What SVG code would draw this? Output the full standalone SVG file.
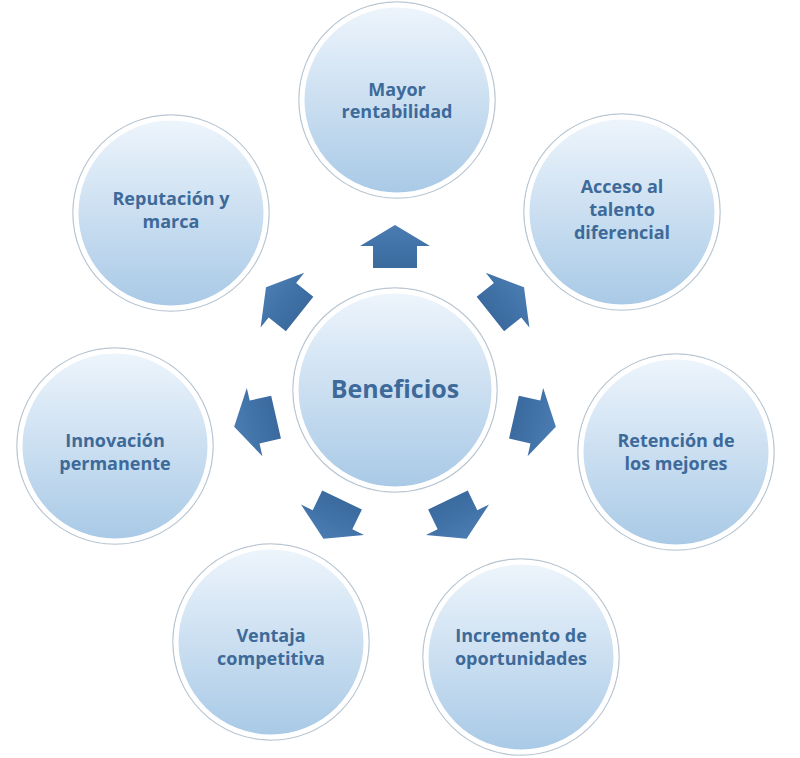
<svg xmlns="http://www.w3.org/2000/svg" width="800" height="758" viewBox="0 0 800 758">
<defs>
<linearGradient id="g" x1="0" y1="0" x2="0" y2="1"><stop offset="0" stop-color="#eef5fc"/><stop offset="1" stop-color="#a8c9e6"/></linearGradient>
<linearGradient id="a" x1="0" y1="0" x2="0" y2="1"><stop offset="0" stop-color="#4a7cb2"/><stop offset="1" stop-color="#3a6a9e"/></linearGradient>
<path id="arr" d="M0,-165 L35,-144 L22,-144 L22,-122 L-22,-122 L-22,-144 L-35,-144 Z"/>
</defs>
<style>
.c{fill:url(#g);stroke:#ffffff;stroke-width:5}
.o{fill:none;stroke:#b9c6d2;stroke-width:1.5}
.t{font-family:"Open Sans","Liberation Sans",sans-serif;font-weight:bold;font-size:18px;fill:#3d6a99;text-anchor:middle}
.ar{fill:url(#a)}
</style>
<rect width="800" height="758" fill="#fff"/>
<g id="connectors" transform="translate(395,390)">
<use href="#arr" class="ar"/>
<use href="#arr" class="ar" transform="rotate(51.43)"/>
<use href="#arr" class="ar" transform="rotate(102.86)"/>
<use href="#arr" class="ar" transform="rotate(154.29)"/>
<use href="#arr" class="ar" transform="rotate(205.71)"/>
<use href="#arr" class="ar" transform="rotate(257.14)"/>
<use href="#arr" class="ar" transform="rotate(308.57)"/>
</g>
<g id="center"><circle class="o" cx="395" cy="390" r="102"/><circle class="c" cx="395" cy="390" r="99"/><text class="t" x="395" y="398" style="font-size:25px">Beneficios</text></g>
<g id="n1"><circle class="o" cx="397" cy="100" r="98"/><circle class="c" cx="397" cy="100" r="95"/><text class="t" x="397" y="96">Mayor</text><text class="t" x="397" y="118">rentabilidad</text></g>
<g id="n2"><circle class="o" cx="622" cy="212" r="98"/><circle class="c" cx="622" cy="212" r="95"/><text class="t" x="622" y="193">Acceso al</text><text class="t" x="622" y="216">talento</text><text class="t" x="622" y="239">diferencial</text></g>
<g id="n3"><circle class="o" cx="676" cy="452" r="98"/><circle class="c" cx="676" cy="452" r="95"/><text class="t" x="676" y="447">Retención de</text><text class="t" x="676" y="470">los mejores</text></g>
<g id="n4"><circle class="o" cx="521" cy="657" r="98"/><circle class="c" cx="521" cy="657" r="95"/><text class="t" x="521" y="642">Incremento de</text><text class="t" x="521" y="665">oportunidades</text></g>
<g id="n5"><circle class="o" cx="271" cy="642" r="98"/><circle class="c" cx="271" cy="642" r="95"/><text class="t" x="271" y="642">Ventaja</text><text class="t" x="271" y="665">competitiva</text></g>
<g id="n6"><circle class="o" cx="115" cy="446" r="98"/><circle class="c" cx="115" cy="446" r="95"/><text class="t" x="115" y="447">Innovación</text><text class="t" x="115" y="470">permanente</text></g>
<g id="n7"><circle class="o" cx="171" cy="213" r="98"/><circle class="c" cx="171" cy="213" r="95"/><text class="t" x="171" y="205">Reputación y</text><text class="t" x="171" y="228">marca</text></g>
</svg>
